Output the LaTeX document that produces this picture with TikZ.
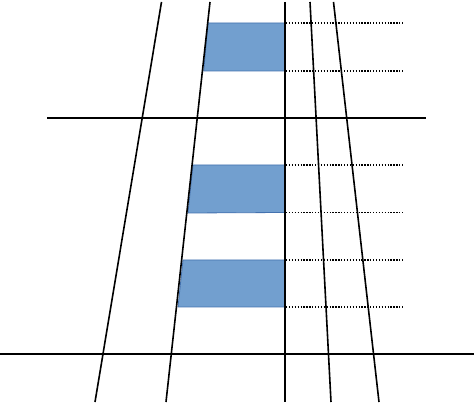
\documentclass[tikz,border=0pt]{standalone}
\definecolor{boxfill}{RGB}{114,159,207}
\definecolor{boxdraw}{RGB}{68,114,175}
\begin{document}
\begin{tikzpicture}[x=1pt,y=-1pt,
  mainline/.style={black,line width=1.6pt},
  dotline/.style={black,line width=1.3pt,dash pattern=on 1.3pt off 1.6pt},
  bluebox/.style={fill=boxfill,draw=boxdraw,line width=0.8pt}]
\useasboundingbox (0,0) rectangle (474,403);
% blue boxes
\draw[bluebox] (208,23) -- (285,23) -- (285,71) -- (203.7,71) -- cycle;
\draw[bluebox] (193,165) -- (285,165) -- (285,212.5) -- (188,213) -- cycle;
\draw[bluebox] (183,260) -- (285,260) -- (285,307) -- (178,307) -- cycle;
% dotted lines
\foreach \y in {23,71,165,212.5,260,307} {
  \draw[dotline] (286,\y) -- (403,\y);
}
% slanted and vertical lines
\draw[mainline] (161.5,2) -- (95,402);
\draw[mainline] (210,2) -- (166,402);
\draw[mainline] (285,2) -- (285,402);
\draw[mainline] (310,2) -- (331,402);
\draw[mainline] (333.5,2) -- (379,402);
% horizontal lines
\draw[mainline] (47,118) -- (426,118);
\draw[mainline] (0,354) -- (474,354);
\end{tikzpicture}
\end{document}
